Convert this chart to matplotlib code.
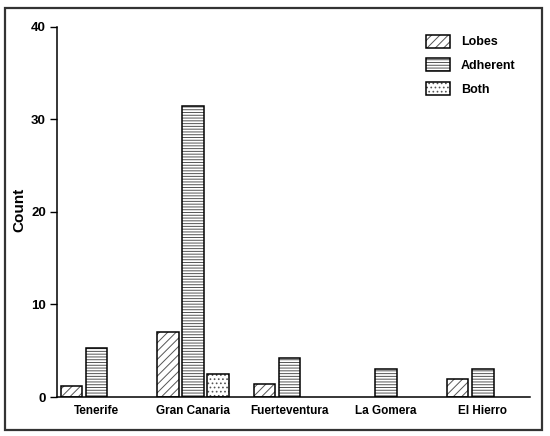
import matplotlib
matplotlib.use('Agg')
import matplotlib.pyplot as plt
import matplotlib.patches as mpatches
import numpy as np

plt.rcParams['font.family'] = 'Liberation Sans'
plt.rcParams['font.weight'] = 'bold'
plt.rcParams['hatch.linewidth'] = 0.7

islands = ['Tenerife', 'Gran Canaria', 'Fuerteventura', 'La Gomera', 'El Hierro']
lobes = [1.2, 7.0, 1.4, 0, 2.0]
adherent = [5.3, 31.5, 4.2, 3.0, 3.0]
both = [0, 2.5, 0, 0, 0]

fig = plt.figure(figsize=(5.5, 4.36), dpi=100)
ax = fig.add_axes([0.1036, 0.0894, 0.86, 0.849])

x = np.arange(len(islands))
w = 0.225
step = 0.26
series = [('Lobes', lobes, '////'), ('Adherent', adherent, '------'), ('Both', both, '....')]
handles = []
for i, (name, vals, hatch) in enumerate(series):
    xs = x + (i - 1) * step
    vals = np.array(vals)
    mask = vals > 0
    # hatch layer in grey, then black outline on top
    ax.bar(xs[mask], vals[mask], width=w, facecolor='white', edgecolor='#555555',
           hatch=hatch, linewidth=0)
    ax.bar(xs[mask], vals[mask], width=w, fill=False, edgecolor='black', linewidth=1.1)
    h1 = mpatches.Patch(facecolor='white', edgecolor='#555555', hatch=hatch, linewidth=0)
    h2 = mpatches.Patch(fill=False, edgecolor='black', linewidth=1.1)
    handles.append((h1, h2))

ax.set_xlim(-0.41, 4.49)
ax.set_ylim(0, 40)
ax.set_yticks([0, 10, 20, 30, 40])
ax.set_xticks(x)
ax.set_xticklabels(islands, fontsize=8.5, fontweight='bold')
ax.tick_params(axis='x', length=0, pad=6)
ax.tick_params(axis='y', direction='out', length=5, width=1, labelsize=9.5, pad=3)
for lab in ax.get_yticklabels():
    lab.set_fontweight('bold')
ax.spines['top'].set_visible(False)
ax.spines['right'].set_visible(False)
ax.spines['left'].set_linewidth(1.1)
ax.spines['bottom'].set_linewidth(1.1)
ax.set_ylabel('Count', fontsize=11, fontweight='bold')
ax.yaxis.set_label_coords(-0.064, 0.505)

leg = ax.legend(handles, [s[0] for s in series], loc='upper left',
                bbox_to_anchor=(0.78, 0.979), frameon=False,
                fontsize=9, handlelength=1.9, handleheight=1.25, labelspacing=0.78,
                handletextpad=0.9, borderpad=0, borderaxespad=0)

border = mpatches.Rectangle((0.009, 0.014), 0.976, 0.968, transform=fig.transFigure,
                            fill=False, edgecolor='#333333', linewidth=1.6)
fig.patches.append(border)

plt.savefig('out.png', dpi=100)
